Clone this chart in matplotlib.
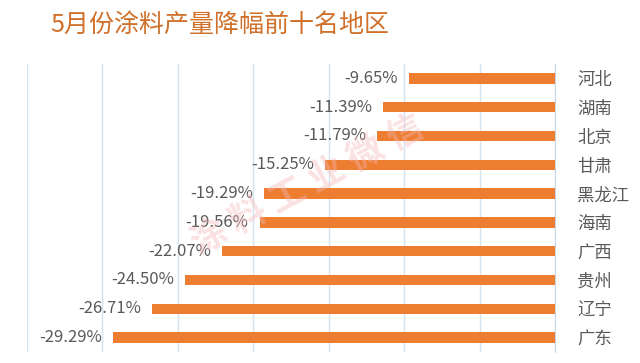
import numpy as np
import matplotlib.pyplot as plt

plt.rcParams['font.family'] = ['Noto Sans CJK SC', 'DejaVu Sans']

# datos (de arriba hacia abajo)
regiones = ['河北', '湖南', '北京', '甘肃', '黑龙江', '海南', '广西', '贵州', '辽宁', '广东']
valores = [-9.65, -11.39, -11.79, -15.25, -19.29, -19.56, -22.07, -24.50, -26.71, -29.29]
titulo = '5月份涂料产量降幅前十名地区'

naranja = '#ED7D31'
gris = '#595959'
rejilla = '#D6E4F2'

fig = plt.figure(figsize=(6.4, 3.63), dpi=100)
ax = fig.add_axes([27/640, 1-352/363, (555-27)/640, 288/363])

y = np.arange(len(regiones))
ax.barh(y, valores, height=0.36, color=naranja, zorder=3)

for yy, v in zip(y, valores):
    ax.text(v - 0.75, yy, f'{v:.2f}%', ha='right', va='center',
            fontsize=12, color=gris, zorder=4)

ax.set_xlim(-35, 0)
ax.set_ylim(len(regiones) - 0.5, -0.5)
ax.set_xticks(np.arange(-35, 1, 5))
ax.grid(axis='x', color=rejilla, linewidth=1, zorder=0)
ax.tick_params(axis='x', length=0, labelbottom=False)

ax.yaxis.tick_right()
ax.set_yticks(y)
ax.set_yticklabels(regiones, fontsize=12.5, color=gris)
ax.tick_params(axis='y', length=0, pad=16)

for s in ['top', 'bottom', 'left']:
    ax.spines[s].set_visible(False)
ax.spines['right'].set_color('#C9D6E3')

fig.text(50/640, 1-25/363, titulo, fontsize=18, color='#D0702A',
         ha='left', va='center')

# marca de agua
fig.text(307/640, 1-185/363, '涂 料 工 业 微 信', fontsize=26, fontweight='bold',
         color='#F6B8B8', alpha=0.4, rotation=28, ha='center', va='center')

fig.savefig('out.png', dpi=100, facecolor='white')
